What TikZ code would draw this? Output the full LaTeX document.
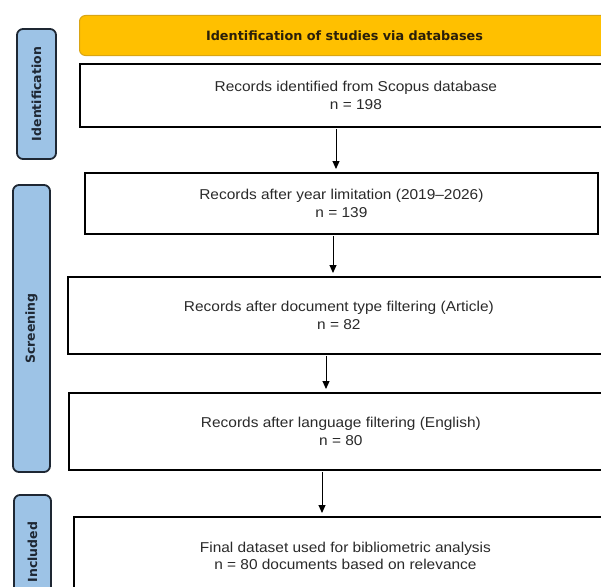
\documentclass[tikz,border=0pt]{standalone}
\usepackage{fontspec}
\setmainfont{Liberation Sans}
\newfontfamily\bodyf[FakeStretch=1.08,Ligatures=TeX]{Liberation Sans}
\newfontfamily\labf[Ligatures=TeX]{DejaVu Sans}
\usetikzlibrary{arrows.meta}
\definecolor{hdrfill}{HTML}{FFC000}
\definecolor{hdrdraw}{HTML}{D9A514}
\definecolor{sidefill}{HTML}{9DC3E6}
\definecolor{sidedraw}{HTML}{1E2733}
\definecolor{txt}{HTML}{2A2A2A}
\definecolor{hdrtxt}{HTML}{2A1F0A}
\begin{document}
\begin{tikzpicture}[x=1pt,y=-1pt,
  box/.style={draw=black, line width=1.8pt, fill=white, rectangle, anchor=north west,
    align=center, text=txt, inner sep=0pt, font=\bodyf\fontsize{14.3}{17.5}\selectfont},
  hdr/.style={draw=hdrdraw, line width=1pt, fill=hdrfill, rounded corners=6pt, anchor=north west,
    text=hdrtxt, inner sep=0pt, font=\labf\bfseries\fontsize{12.8}{15}\selectfont},
  side/.style={draw=sidedraw, line width=1.8pt, fill=sidefill, rounded corners=6pt, rotate=90,
    inner sep=0pt, text=sidedraw, font=\labf\bfseries\fontsize{12.5}{15}\selectfont},
  arr/.style={-{Triangle[length=8pt,width=7pt]}, line width=1pt, shorten >=3pt, shorten <=1pt}]
\useasboundingbox (0,0) rectangle (601,586);
\clip (0,0) rectangle (601,586);

\node[hdr, minimum width=530, minimum height=40] (hd) at (79,15) {Identification of studies via databases};

\node[box, minimum width=552, minimum height=63] (b1) at (79,63) {Records identified from Scopus database\\n = 198};
\node[box, minimum width=513, minimum height=61] (b2) at (84,172) {Records after year limitation (2019–2026)\\n = 139};
\node[box, minimum width=542, minimum height=77] (b3) at (67,276) {Records after document type filtering (Article)\\n = 82};
\node[box, minimum width=544, minimum height=77] (b4) at (68,392) {Records after language filtering (English)\\n = 80};
\node[box, minimum width=543, minimum height=78] (b5) at (73,516) {Final dataset used for bibliometric analysis\\n = 80 documents based on relevance};

\node[side, minimum width=130, minimum height=39] (s1) at (36.5,94) {Identification};
\node[side, minimum width=287, minimum height=37] (s2) at (31.5,328.5) {Screening};
\node[side, minimum width=114, minimum height=37] (s3) at (32.5,552) {Included};

\coordinate (x1) at (336,0);
\coordinate (x2) at (333,0);
\coordinate (x3) at (326,0);
\coordinate (x4) at (322,0);
\draw[arr] (b1.south -| x1) -- (b2.north -| x1);
\draw[arr] (b2.south -| x2) -- (b3.north -| x2);
\draw[arr] (b3.south -| x3) -- (b4.north -| x3);
\draw[arr] (b4.south -| x4) -- (b5.north -| x4);
\end{tikzpicture}
\end{document}
